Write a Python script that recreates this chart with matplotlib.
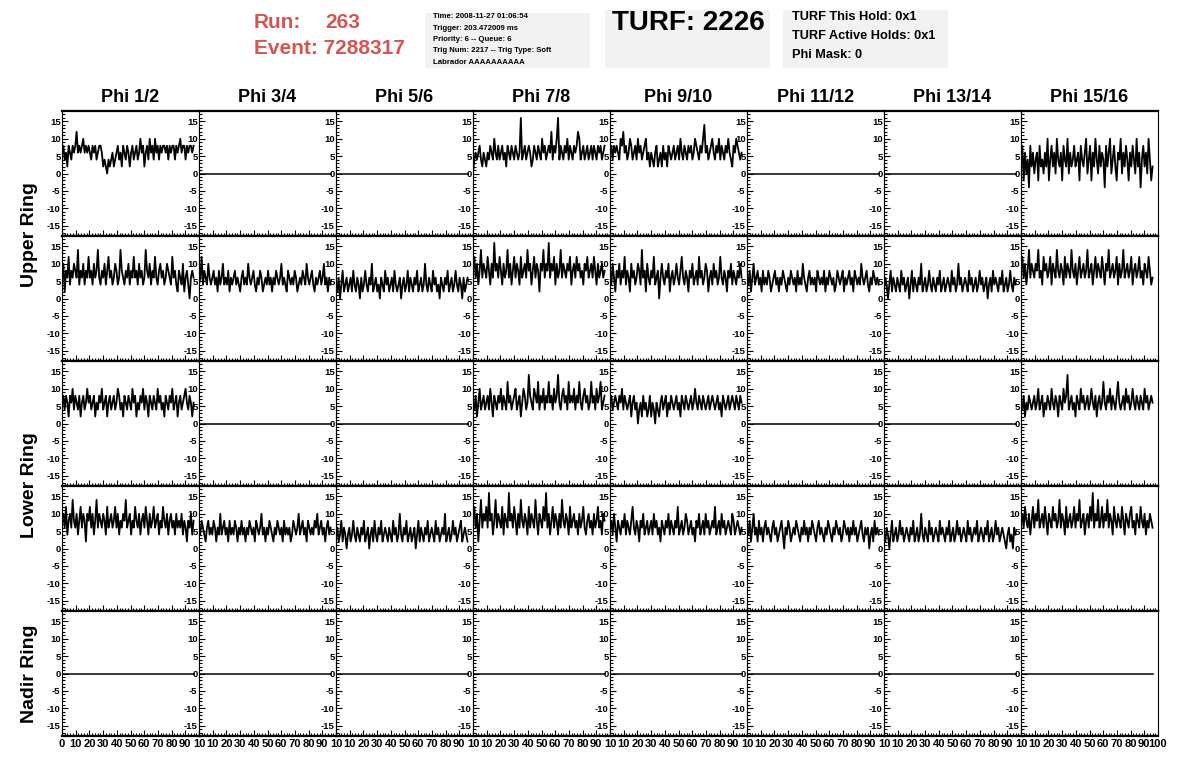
import numpy as np
import matplotlib
matplotlib.use('Agg')
import matplotlib.pyplot as plt
from matplotlib import font_manager
from matplotlib.patches import Rectangle
from matplotlib.ticker import MultipleLocator, FixedLocator

# pick a family that really has a bold face installed
main_font = 'DejaVu Sans'
for fam in ['Liberation Sans', 'Arimo', 'Roboto', 'Noto Sans', 'Open Sans']:
    try:
        path = font_manager.findfont(font_manager.FontProperties(family=fam, weight='bold'),
                                     fallback_to_default=False)
    except Exception:
        continue
    if 'bold' in path.lower():
        main_font = fam
        break

plt.rcParams['font.family'] = [main_font, 'DejaVu Sans']
plt.rcParams['font.weight'] = 'bold'

phi_labels = ['Phi 1/2', 'Phi 3/4', 'Phi 5/6', 'Phi 7/8',
              'Phi 9/10', 'Phi 11/12', 'Phi 13/14', 'Phi 15/16']
ring_labels = ['Upper Ring', 'Lower Ring', 'Nadir Ring']
y_ticks = [-15, -10, -5, 0, 5, 10, 15]
x_ticks = [0, 10, 20, 30, 40, 50, 60, 70, 80, 90, 100]

header_run = 'Run:    263'
header_event = 'Event: 7288317'
info_lines = ['Time: 2008-11-27 01:06:54', 'Trigger: 203.472009 ms',
              'Priority: 6 -- Queue: 6', 'Trig Num: 2217 -- Trig Type: Soft',
              'Labrador AAAAAAAAAA']
turf_text = 'TURF: 2226'
turf_lines = ['TURF This Hold: 0x1', 'TURF Active Holds: 0x1', 'Phi Mask: 0']

sample_dt = 0.97  # ns between samples
empty_value = 0

# --- waveforms (one string per channel, 100 samples) ---
r1_phi12 = """6 8 4 6 2 8 6 4 8 6 8 12 6 8 6 8 10 6 8 6 8 6 4 8 6 8 4 6 8 8
6 2 4 2 0 4 2 4 6 2 4 6 8 4 6 2 8 6 4 8 6 2 6 8 4 6 8 4 6 10
6 8 2 6 8 4 10 6 8 4 10 6 8 4 8 6 8 8 6 8 4 8 6 8 8 4 8 6 8 10
6 8 8 4 8 6 8 8 6 8"""
r1_phi78 = """0 4 6 4 6 8 4 2 6 4 2 6 4 8 6 4 10 6 4 8 4 6 8 4 6 2 8 6 4 8
6 4 8 6 4 6 16 4 6 8 4 6 8 6 2 4 8 6 4 8 6 4 10 6 8 4 6 8 6 12
4 8 6 10 16 4 8 6 4 8 6 10 4 8 6 4 8 6 8 12 10 4 6 8 4 6 8 4 6 8
4 8 6 4 8 6 8 4 6 8"""
r1_phi910 = """6 8 4 8 6 8 6 4 10 8 12 6 8 4 6 10 8 4 6 8 4 10 6 8 4 6 8 10 4 6
2 6 4 2 6 8 2 4 6 2 8 4 6 2 8 6 4 6 8 4 6 8 4 10 6 4 8 6 4 8
6 8 4 6 10 8 6 4 8 6 10 14 6 8 4 6 8 10 6 4 8 6 10 4 8 6 4 8 6 10
6 4 2 8 6 10 8 6 4 6"""
r1_phi1516 = """2 8 -2 6 0 4 -4 8 2 6 0 4 6 -2 8 2 4 0 6 2 10 -2 4 8 2 6 0 10 4 2
6 -2 8 4 2 10 0 6 2 4 8 2 4 6 -2 8 4 2 6 10 0 4 8 -2 6 2 10 4 0 8
2 6 4 -4 8 2 6 10 0 4 8 2 -2 6 4 10 0 6 2 8 4 -2 6 2 8 4 0 10 2 6
-4 4 8 2 6 0 10 4 -2 2"""

r2_phi12 = """6 10 2 8 6 12 4 8 6 10 8 6 14 4 8 6 10 4 8 6 12 6 8 4 10 6 8 14 6 4
8 6 10 4 8 12 6 8 4 6 10 8 4 6 14 8 6 4 8 6 10 4 8 6 12 6 8 4 10 6
8 4 6 14 8 6 10 4 8 6 12 6 4 8 10 6 8 4 6 10 8 6 4 12 6 8 4 2 8 6
4 10 2 6 8 4 0 6 8 6"""
r2_phi34 = """4 6 12 4 8 6 4 10 6 4 6 8 4 6 2 8 4 6 10 4 6 4 8 2 6 4 6 8 4 6
4 2 6 8 4 6 4 10 6 4 6 8 4 2 6 4 8 6 2 4 6 4 8 4 6 2 6 4 8 6
4 6 10 4 6 4 2 8 6 4 6 4 8 6 2 4 6 4 8 6 4 10 6 4 6 8 4 2 6 4
6 8 4 6 10 4 6 2 6 4"""
r2_phi56 = """4 2 6 0 4 8 2 4 6 2 4 6 2 8 4 2 6 4 0 6 2 4 8 4 2 6 4 10 2 4
6 2 4 0 6 4 2 8 4 6 2 4 6 2 8 4 2 4 6 0 4 6 2 4 8 2 6 4 2 6
4 8 2 4 6 2 4 10 4 2 6 4 2 8 4 6 2 4 0 6 4 2 6 4 8 2 4 6 2 4
8 4 2 6 4 0 6 2 4 6"""
r2_phi78 = """8 12 6 10 4 8 14 6 10 8 6 12 8 4 10 6 16 8 10 6 12 8 4 10 6 8 14 6 10 4
8 12 6 10 8 4 12 6 8 10 6 14 8 10 4 8 12 6 10 8 2 10 8 14 6 10 8 16 6 10
8 12 4 10 6 8 14 6 10 8 6 10 8 12 4 8 10 6 12 8 10 6 8 4 10 8 12 6 8 10
6 12 8 4 10 6 8 10 6 8"""
r2_phi910 = """8 4 10 6 2 8 6 10 4 8 6 12 4 8 6 2 10 6 8 4 6 10 8 4 14 6 8 2 10 6
4 8 6 12 4 6 8 0 6 10 6 4 8 6 10 2 6 8 4 6 10 6 4 8 12 6 4 8 6 2
8 6 10 4 6 8 4 12 6 8 4 6 10 8 2 6 8 4 10 6 8 4 6 12 6 4 8 6 2 8
6 10 4 8 6 4 8 6 10 6"""
r2_phi1112 = """6 4 8 2 6 10 4 6 8 4 6 2 8 4 6 4 8 6 2 4 6 8 4 6 2 6 4 8 6 4
2 6 4 8 6 4 6 2 8 4 6 4 10 6 4 2 6 8 4 6 4 6 2 8 6 4 6 4 8 2
6 4 8 6 4 6 2 4 8 6 4 6 8 2 6 4 6 8 4 6 2 8 6 4 6 4 10 6 4 6
8 4 2 6 4 8 6 4 6 4"""
r2_phi1314 = """2 6 4 0 4 8 2 6 4 2 6 4 2 8 4 6 2 4 6 0 4 8 2 6 4 2 6 4 10 2
4 6 2 4 8 4 2 6 4 2 6 4 8 2 4 6 2 4 6 4 2 8 4 6 2 4 10 4 6 2
4 6 4 2 8 4 6 2 4 6 2 4 8 4 6 2 4 6 0 4 6 2 8 4 6 4 2 6 4 8
2 4 6 2 4 8 4 2 6 4"""
r2_phi1516 = """8 12 6 10 4 8 14 6 10 8 6 10 8 14 6 8 4 12 8 10 6 8 12 4 10 8 6 14 8 6
10 8 4 12 6 10 8 6 14 8 6 10 4 8 12 6 8 10 6 8 14 6 8 10 4 8 12 6 10 8
6 12 8 4 10 8 14 6 8 10 6 8 12 4 10 6 8 14 6 8 10 6 8 12 4 8 10 6 8 12
6 8 4 10 8 6 12 8 4 6"""

r3_phi12 = """6 8 4 8 6 2 8 6 10 4 8 6 4 8 2 6 8 4 6 10 6 8 4 6 8 2 6 4 8 6
10 4 6 8 2 6 8 4 6 8 4 6 10 8 4 6 2 8 6 4 8 6 4 10 6 8 2 6 4 8
6 10 4 8 6 2 8 6 4 8 6 4 10 6 8 4 6 2 8 6 4 8 6 10 4 6 8 2 6 8
4 6 8 10 6 4 8 6 2 6"""
r3_phi78 = """6 4 8 2 6 10 4 6 8 4 6 8 4 10 6 2 8 6 4 8 6 10 4 8 6 4 12 6 8 4
6 8 10 4 6 8 2 6 10 8 4 6 14 8 6 4 10 8 6 12 4 8 6 10 4 8 6 12 6 8
4 10 6 8 14 6 4 8 10 6 8 4 12 6 8 6 10 4 8 6 12 6 4 8 10 6 8 4 6 12
6 8 4 10 6 8 12 4 6 8"""
r3_phi910 = """6 8 4 6 8 6 4 8 6 10 4 8 6 4 6 8 2 6 8 4 6 0 4 6 2 8 4 6 2 4
8 2 6 4 0 6 4 2 6 8 4 6 8 2 6 4 8 6 4 6 8 4 6 2 8 6 4 8 6 4
6 8 4 6 10 6 4 8 6 4 8 6 4 6 8 4 6 8 6 4 6 8 4 6 2 8 6 4 6 8
4 6 8 6 4 8 6 4 8 6"""
r3_phi1516 = """6 4 8 2 6 4 8 6 4 6 8 4 6 10 4 6 8 2 6 4 8 6 4 10 6 4 8 6 2 8
6 4 10 6 8 14 4 6 8 4 6 2 8 6 4 10 6 8 4 6 8 4 6 10 6 4 8 2 6 8
4 6 12 6 4 8 6 10 4 8 6 4 8 12 6 4 6 8 4 10 6 8 4 6 10 6 4 8 6 4
8 6 4 10 6 8 4 6 8 6"""

r4_phi12 = """8 10 6 12 4 8 10 6 14 8 6 10 4 8 12 6 10 8 2 10 8 12 6 10 4 8 14 6 10 8
6 10 8 4 12 6 8 10 6 8 12 6 10 4 8 6 10 8 14 6 8 10 4 8 6 12 8 6 10 4
8 10 6 12 8 4 10 6 8 12 6 8 10 4 8 6 12 8 6 10 4 8 10 6 8 4 10 6 8 6
10 4 8 6 2 8 6 10 4 8"""
r4_phi34 = """6 4 8 6 4 2 6 8 4 6 4 8 6 2 6 4 10 4 6 8 4 6 2 8 4 6 4 8 6 2
6 4 8 4 6 2 6 4 8 6 4 6 2 8 6 4 6 10 4 6 2 6 4 8 6 4 2 6 4 8
6 4 6 2 8 4 6 4 6 2 4 8 6 4 6 10 4 6 8 4 6 2 8 6 4 6 4 8 6 10
4 6 8 4 6 2 6 8 4 6"""
r4_phi56 = """4 6 2 4 8 2 6 4 0 4 6 2 4 8 4 2 6 4 2 6 4 8 2 4 6 0 4 6 2 8
4 2 6 4 8 2 4 6 4 2 6 4 2 8 4 6 2 4 10 4 2 6 4 8 2 4 6 2 4 6
0 4 8 2 6 4 2 6 4 8 2 4 6 4 2 8 4 6 2 4 6 4 10 2 4 6 2 4 8 4
6 2 4 6 8 2 4 6 4 2"""
r4_phi78 = """8 12 6 10 2 8 14 6 10 8 12 6 16 8 10 4 8 14 6 10 8 6 12 4 10 8 6 16 8 10
6 12 8 4 10 6 14 8 6 10 8 4 12 6 10 8 6 14 8 4 10 8 6 12 8 16 6 10 4 8
12 6 10 8 4 10 6 14 8 6 10 8 4 12 6 8 10 6 8 4 10 6 8 12 6 4 8 10 6 8
4 10 6 8 12 6 8 4 10 8"""
r4_phi910 = """6 8 4 10 6 2 8 6 4 8 6 10 4 8 6 4 8 12 6 4 8 6 2 8 6 10 4 6 8 4
6 8 4 10 6 8 4 6 2 8 6 4 8 6 10 4 8 6 4 8 6 12 4 6 8 4 6 10 8 4
6 8 4 6 2 8 6 10 4 6 8 4 10 6 8 4 6 8 6 12 4 6 8 4 10 6 8 4 6 8
6 4 10 8 4 6 8 6 4 6"""
r4_phi1112 = """6 4 8 2 6 10 4 6 2 8 4 6 2 6 8 4 6 4 2 6 8 4 6 2 4 6 8 4 0 6
4 8 6 2 4 6 4 8 6 4 2 6 4 8 4 6 2 6 4 8 6 4 2 6 8 4 6 4 2 6
4 8 6 4 2 6 4 8 6 4 6 2 4 8 6 4 6 2 6 4 8 4 6 2 4 6 8 4 2 6
4 6 0 4 6 2 8 4 6 4"""
r4_phi1314 = """4 2 6 4 0 4 8 2 4 6 2 4 8 4 6 2 4 6 4 2 6 4 8 2 4 6 2 4 10 4
2 6 4 2 8 4 6 2 4 6 4 2 8 4 6 4 2 6 4 8 2 4 6 2 4 8 4 6 2 4
6 4 2 8 4 6 2 4 6 4 8 2 4 6 4 2 6 4 8 2 4 6 2 4 8 4 6 2 4 6
4 2 0 4 6 2 4 0 6 4"""
r4_phi1516 = """8 10 6 12 8 6 10 4 8 12 6 10 8 14 6 8 10 6 12 8 4 10 8 6 12 8 10 6 8 14
6 10 8 4 12 6 8 10 6 8 12 6 10 8 14 6 8 10 4 8 10 6 12 8 16 6 10 8 14 6
8 12 6 10 8 14 6 10 8 4 12 8 6 10 8 6 12 8 4 10 8 6 10 12 6 8 4 10 8 6
12 8 6 10 4 8 6 10 8 6"""

rows = [
    [r1_phi12, None, None, r1_phi78, r1_phi910, None, None, r1_phi1516],
    [r2_phi12, r2_phi34, r2_phi56, r2_phi78, r2_phi910, r2_phi1112, r2_phi1314, r2_phi1516],
    [r3_phi12, None, None, r3_phi78, r3_phi910, None, None, r3_phi1516],
    [r4_phi12, r4_phi34, r4_phi56, r4_phi78, r4_phi910, r4_phi1112, r4_phi1314, r4_phi1516],
    [None] * 8,
]

W, H = 1196, 772
fig = plt.figure(figsize=(W / 100, H / 100), dpi=100)


def fx(px):
    return px / W


def fy(py):
    return 1 - py / H


panel_left, panel_w = 62, 137
panel_top, panel_h = 111, 125
n_rows, n_cols = len(rows), len(phi_labels)
t = np.arange(100) * sample_dt

for r in range(n_rows):
    for c in range(n_cols):
        ax = fig.add_axes([fx(panel_left + panel_w * c), fy(panel_top + panel_h * (r + 1)),
                           panel_w / W, panel_h / H])
        wave = rows[r][c]
        if wave is None:
            ax.plot(t, [empty_value] * len(t), color='black', lw=1.1)
        else:
            vals = [int(v) for v in wave.split()]
            ax.plot(t[:len(vals)], vals, color='black', lw=1.3)
        ax.set_xlim(0, 100)
        ax.set_ylim(-18, 18)
        ax.yaxis.set_major_locator(FixedLocator(y_ticks))
        ax.yaxis.set_minor_locator(MultipleLocator(1))
        ax.xaxis.set_major_locator(FixedLocator(x_ticks))
        ax.xaxis.set_minor_locator(MultipleLocator(2))
        ax.tick_params(axis='both', which='both', direction='in',
                       top=False, right=False, width=0.8)
        ax.tick_params(axis='both', which='major', length=4)
        ax.tick_params(axis='both', which='minor', length=2)
        ax.tick_params(axis='y', labelsize=6.8, pad=1)
        ax.set_yticklabels([str(v) for v in y_ticks], fontweight='bold')
        if r == n_rows - 1:
            labs = [str(v) for v in x_ticks]
            if c > 0:
                labs[0] = ''
            if c < n_cols - 1:
                labs[-1] = '10'
            ax.set_xticklabels(labs, fontweight='bold')
            ax.tick_params(axis='x', labelsize=8, pad=2)
        else:
            ax.set_xticklabels([])
        for side in ['left', 'right']:
            ax.spines[side].set_linewidth(0.8)
        ax.spines['bottom'].set_linewidth(1.6)
        ax.spines['top'].set_linewidth(1.6)
        if r == 0:
            fig.text(fx(panel_left + panel_w * (c + 0.5)), fy(98), phi_labels[c],
                     ha='center', va='center', fontsize=13, fontweight='bold')

fig.text(fx(30), fy(235), ring_labels[0], rotation=90, ha='center', va='center',
         fontsize=14, fontweight='bold')
fig.text(fx(30), fy(485), ring_labels[1], rotation=90, ha='center', va='center',
         fontsize=14, fontweight='bold')
fig.text(fx(30), fy(674), ring_labels[2], rotation=90, ha='center', va='center',
         fontsize=14, fontweight='bold')

# header
red = '#d65452'
fig.text(fx(254), fy(22), header_run.split()[0], color=red, fontsize=15,
         fontweight='bold', va='center')
fig.text(fx(325), fy(22), header_run.split()[1], color=red, fontsize=15,
         fontweight='bold', va='center')
fig.text(fx(254), fy(48), header_event, color=red, fontsize=15,
         fontweight='bold', va='center')

box_color = '#f2f2f2'
for x0, x1, y0, y1 in [(425, 590, 13, 68), (605, 770, 10, 68), (783, 948, 10, 68)]:
    fig.patches.append(Rectangle((fx(x0), fy(y1)), (x1 - x0) / W, (y1 - y0) / H,
                                 transform=fig.transFigure, facecolor=box_color,
                                 edgecolor='none', zorder=0))

for i, line in enumerate(info_lines):
    fig.text(fx(433), fy(17 + 11.3 * i), line, fontsize=5.6, fontweight='bold',
             va='center')

fig.text(fx(612), fy(23), turf_text, fontsize=20, fontweight='bold', va='center')

for i, line in enumerate(turf_lines):
    fig.text(fx(792), fy(17 + 19 * i), line, fontsize=9.2, fontweight='bold',
             va='center')

fig.savefig('out.png', dpi=100)
